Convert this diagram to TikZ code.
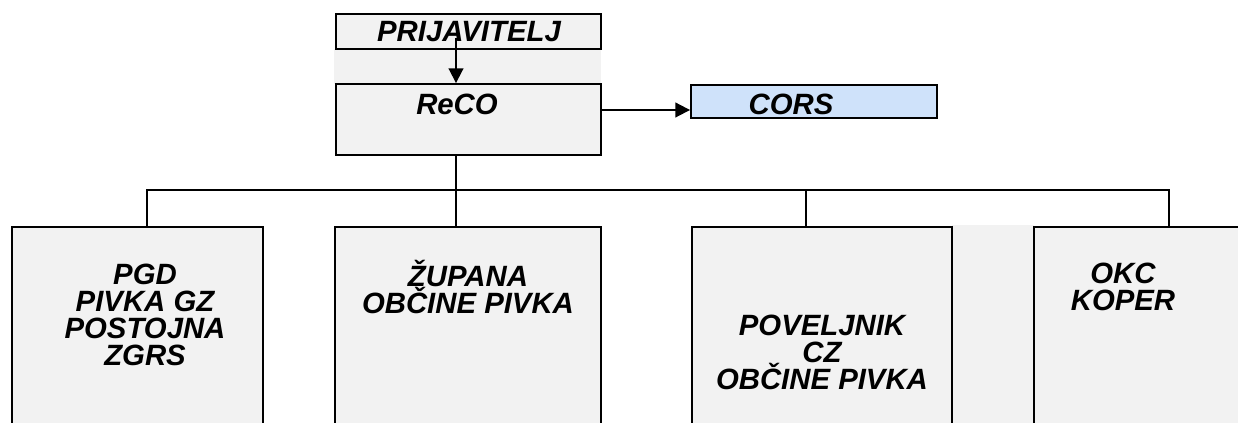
\documentclass[tikz,border=0pt]{standalone}
\usepackage{fontspec}
\setmainfont{Liberation Sans}
\usepackage{tikz}
\usetikzlibrary{arrows.meta}

\definecolor{boxgray}{RGB}{242,242,242}
\definecolor{corsblue}{RGB}{207,226,250}

\tikzset{
  box/.style={draw, line width=1.4pt, fill=boxgray, inner sep=0pt},
  lbl/.style={font=\bfseries\itshape\fontsize{22}{20.25}\selectfont, align=center, inner sep=0pt},
  conn/.style={line width=1.4pt},
  arr/.style={line width=1.4pt, -{Triangle[length=11pt,width=11pt]}}
}

\begin{document}
\begin{tikzpicture}[x=0.75pt,y=0.75pt,yscale=-1,xscale=1]
\useasboundingbox (0,0) rectangle (1238,423);
\clip (0,0) rectangle (1238,423);

% grey bands
\fill [boxgray] (334,49) rectangle (601,84);
\fill [boxgray] (952,225) rectangle (1034,430);

% top boxes
\node [box, minimum width=198.75pt, minimum height=26.25pt] (prij) at (468.5,31.5) {};
\node [lbl] (prijtxt) at (469,32) {PRIJAVITELJ};
\node [box, minimum width=198.75pt, minimum height=53.25pt] (reco) at (468.5,119.5) {};
\node [lbl] (recotxt) at (457,104) {ReCO};
\node [box, fill=corsblue, minimum width=184.5pt, minimum height=24.75pt] (cors) at (814,101.5) {};
\node [lbl] (corstxt) at (791,104) {CORS};

% bottom boxes
\node [box, minimum width=188.25pt, minimum height=159.75pt] (b1) at (137.5,333.5) {};
\node [box, minimum width=199.5pt, minimum height=159.75pt] (b2) at (468,333.5) {};
\node [box, minimum width=195pt, minimum height=159.75pt] (b3) at (822,333.5) {};
\node [box, minimum width=169.5pt, minimum height=159.75pt] (b4) at (1147,333.5) {};

% Text Node
\node [lbl] (b1txt) at (145,314.5) {PGD\\PIVKA GZ\\POSTOJNA\\ZGRS};
% Text Node
\node [lbl] (b2txt) at (468,287.5) {ŽUPANA\\OBČINE PIVKA};
% Text Node
\node [lbl] (b3txt) at (822,352) {POVELJNIK\\CZ\\OBČINE PIVKA};
% Text Node
\node [lbl] (b4txt) at (1123,287) {OKC\\KOPER};

% branch points
\coordinate (a0) at (456,38);
\coordinate (ay) at (0,110);
\coordinate (k1) at (147,190);
\coordinate (k2) at (456,190);
\coordinate (k3) at (806,190);
\coordinate (k4) at (1169,190);

% arrows
\draw [arr] (a0) -- (a0 |- reco.north);
\draw [arr] (reco.east |- ay) -- (cors.west |- ay);

% tree lines
\draw [conn] (reco.south -| k2) -- (k2 |- b2.north);
\draw [conn] (k1 |- b1.north) -- (k1) -- (k4) -- (k4 |- b4.north);
\draw [conn] (k3) -- (k3 |- b3.north);

\end{tikzpicture}
\end{document}
